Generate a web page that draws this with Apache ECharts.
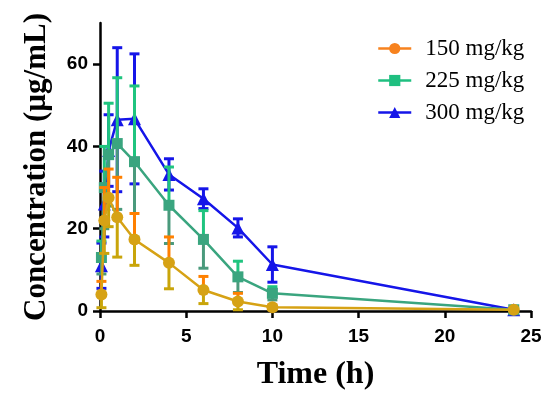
<!DOCTYPE html>
<html><head><meta charset="utf-8">
<script src="https://cdn.jsdelivr.net/npm/echarts@6/dist/echarts.min.js"></script>
<style>html,body{margin:0;padding:0;background:#fff}#c{width:550px;height:397px}</style>
</head><body><div id="c"></div>
<script>
var times = [0.083, 0.25, 0.5, 1, 2, 4, 6, 8, 10, 24];
var mean150 = [4.0, 22.0, 27.5, 22.8, 17.4, 11.7, 5.1, 2.3, 0.9, 0.3];
var sd150   = [3.2, 8.0, 7.0, 9.7, 6.3, 6.3, 3.3, 2.0, 0.6, 0.2];
var mean225 = [13.0, 30.0, 38.0, 40.7, 36.3, 25.7, 17.4, 8.3, 4.3, 0.3];
var sd225   = [4.0, 10.0, 12.5, 16.0, 18.4, 9.3, 7.0, 3.8, 1.6, 0.2];
var mean300 = [11.0, 26.0, 39.0, 46.5, 46.7, 33.2, 27.3, 20.2, 11.3, 0.3];
var sd300   = [5.5, 8.0, 8.7, 17.5, 15.8, 3.8, 2.4, 2.2, 4.3, 0.2];
var seriesNames = ['150 mg/kg', '225 mg/kg', '300 mg/kg'];
var xTicks = [0, 5, 10, 15, 20, 25];
var yTicks = [0, 20, 40, 60];

var styles = [
  {legend:'#f7821e', line:'#d6a215', up:'#ff8000', low:'#c9a50a', symbol:'circle', size:12},
  {legend:'#1fbf80', line:'#3aa57f', up:'#1fc47f', low:'#4a9a7c', symbol:'rect', size:11},
  {legend:'#1515e8', line:'#1515e8', up:'#1515e8', low:'#1515e8', symbol:'triangle', size:13}
];
var means = [mean150, mean225, mean300];
var sds = [sd150, sd225, sd300];

function errSeries(i, z) {
  var st = styles[i];
  return {
    type: 'custom', name: seriesNames[i] + ' SD', z: z,
    data: times.map(function (t, k) { return [t, Math.max(0, means[i][k] - sds[i][k]), means[i][k], means[i][k] + sds[i][k]]; }),
    renderItem: function (params, api) {
      var lo = api.coord([api.value(0), api.value(1)]);
      var mid = api.coord([api.value(0), api.value(2)]);
      var hi = api.coord([api.value(0), api.value(3)]);
      var w = 5, lw = 3;
      return {type: 'group', children: [
        {type:'line', shape:{x1:hi[0], y1:hi[1], x2:mid[0], y2:mid[1]}, style:{stroke:st.up, lineWidth:lw}},
        {type:'line', shape:{x1:hi[0]-w, y1:hi[1], x2:hi[0]+w, y2:hi[1]}, style:{stroke:st.up, lineWidth:lw}},
        {type:'line', shape:{x1:mid[0], y1:mid[1], x2:lo[0], y2:lo[1]}, style:{stroke:st.low, lineWidth:lw}},
        {type:'line', shape:{x1:lo[0]-w, y1:lo[1], x2:lo[0]+w, y2:lo[1]}, style:{stroke:st.low, lineWidth:lw}}
      ]};
    },
    silent: true
  };
}
function lineSeries(i, z) {
  var st = styles[i];
  return {
    type: 'line', name: seriesNames[i], z: z,
    data: times.map(function (t, k) { return [t, means[i][k]]; }),
    symbol: st.symbol, symbolSize: st.size, showAllSymbol: true,
    lineStyle: {color: st.line, width: 2.5},
    itemStyle: {color: st.line},
    animation: false
  };
}

var chart = echarts.init(document.getElementById('c'), null, {renderer: 'canvas'});
chart.setOption({
  animation: false,
  backgroundColor: '#fff',
  grid: {left: 100, top: 23, width: 431, height: 288},
  legend: {
    orient: 'vertical', left: 372, top: 32, itemWidth: 33, itemHeight: 14, itemGap: 9,
    textStyle: {fontFamily: 'Liberation Serif', fontSize: 23, color: '#000', padding: [0, 0, 0, 9]},
    data: seriesNames.map(function (n, i) {
      return {name: n, itemStyle: {color: styles[i].legend}, lineStyle: {color: styles[i].legend, width: 2.5}};
    })
  },
  xAxis: {
    type: 'value', min: 0, max: 25, interval: 5,
    name: 'Time (h)', nameLocation: 'middle', nameGap: 48,
    nameTextStyle: {fontFamily: 'Liberation Serif', fontWeight: 'bold', fontSize: 32, color: '#000'},
    axisLine: {lineStyle: {color: '#000', width: 2.5}},
    axisTick: {length: 7, lineStyle: {color: '#000', width: 2.5}, customValues: xTicks},
    axisLabel: {fontFamily: 'Liberation Sans', fontWeight: 'bold', fontSize: 19, color: '#000', margin: 16, customValues: xTicks},
    splitLine: {show: false}
  },
  yAxis: {
    type: 'value', min: 0, max: 70,
    name: 'Concentration (µg/mL)', nameLocation: 'middle', nameGap: 48,
    nameTextStyle: {fontFamily: 'Liberation Serif', fontWeight: 'bold', fontSize: 31, color: '#000'},
    axisLine: {show: true, lineStyle: {color: '#000', width: 2.5}},
    axisTick: {show: true, length: 7, lineStyle: {color: '#000', width: 2.5}, customValues: yTicks},
    axisLabel: {fontFamily: 'Liberation Sans', fontWeight: 'bold', fontSize: 19, color: '#000', margin: 12, customValues: yTicks},
    splitLine: {show: false}
  },
  series: [
    errSeries(2, 2), lineSeries(2, 3),
    errSeries(1, 4), lineSeries(1, 5),
    errSeries(0, 6), lineSeries(0, 7)
  ]
});
</script></body></html>
